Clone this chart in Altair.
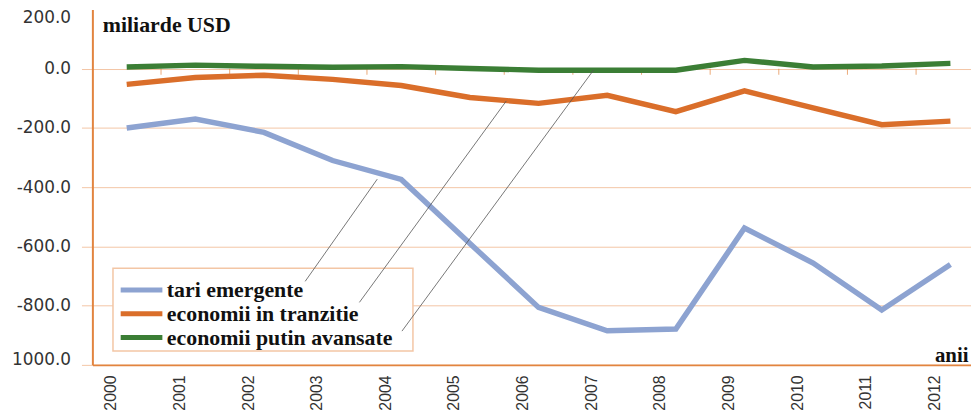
import altair as alt
import pandas as pd

# ---------------- data ----------------
years = list(range(2000, 2013))
tari_emergente = [-200, -170, -215, -310, -374, -590, -806, -885, -879, -538, -656, -815, -661]
economii_tranzitie = [-53, -30, -22, -36, -57, -97, -117, -90, -145, -75, -132, -189, -177]
economii_putin_avansate = [6, 12, 8, 5, 7, 1, -5, -5, -5, 28, 6, 9, 18]

series_names = ["tari emergente", "economii in tranzitie", "economii putin avansate"]
series_colors = ["#8DA3D1", "#DA6E2A", "#3B7E35"]
y_ticks = [200, 0, -200, -400, -600, -800, -1000]

# annotation: leader lines from legend labels to the series (data units)
leader_x = [2002.60, 2003.39, 2004.01]
leader_y = [-718, -789, -886]
leader_x2 = [2003.65, 2005.53, 2006.80]
leader_y2 = [-373, -109, -5]

# annotation: legend frame (data units)
legend_box_x = [1999.80]
legend_box_x2 = [2004.17]
legend_box_y = [-674]
legend_box_y2 = [-953]

grid_color = "#F3C6A5"
axis_color = "#E2843F"

# ---------------- tables ----------------
rows = []
for name, vals in zip(series_names, [tari_emergente, economii_tranzitie, economii_putin_avansate]):
    for yr, v in zip(years, vals):
        rows.append({"an": yr, "valoare": v, "serie": name})
df = pd.DataFrame(rows)

ticks_df = pd.DataFrame({"an": [y + 0.5 for y in years[:-1]], "valoare": [0] * (len(years) - 1)})
leaders_df = pd.DataFrame({"an": leader_x, "valoare": leader_y, "an2": leader_x2, "valoare2": leader_y2})
box_df = pd.DataFrame({"an": legend_box_x, "an2": legend_box_x2,
                       "valoare": legend_box_y, "valoare2": legend_box_y2})

x_scale = alt.Scale(domain=[1999.5, 2012.3], nice=False, zero=False)
y_scale = alt.Scale(domain=[-1000, 200], nice=False, zero=False)

x_axis = alt.Axis(
    values=years, labelExpr="'' + datum.value", labelAngle=270, labelOffset=-16,
    labelPadding=10, labelFont="Liberation Sans", labelFontSize=16, labelColor="#333333",
    labelOverlap=False, labelBound=False,
    ticks=False, grid=False, domainColor=axis_color, domainWidth=2,
    title="anii", titleX=882, titleY=-9, titleAlign="right", titleBaseline="middle",
    titleAngle=0, titleFont="Liberation Serif", titleFontWeight="bold", titleFontSize=21,
    titleColor="#111111",
)

y_axis = alt.Axis(
    values=y_ticks,
    labelExpr="datum.value == -1000 ? '1000.0' : (datum.value < 0 ? '-' : '') + format(abs(datum.value), '.1f')",
    labelFont="DejaVu Sans", labelFontSize=17, labelColor="#333333", labelPadding=11,
    labelFlush=True, labelOverlap=False,
    labelOffset={"condition": {"test": "datum.value == -1000", "value": 4}, "value": 0},
    tickSize=11, tickColor=grid_color, tickWidth=1,
    tickOpacity={"condition": {"test": "datum.value == 200", "value": 0}, "value": 1},
    domainColor=axis_color, domainWidth=2,
    grid=True, gridColor=grid_color, gridWidth=1,
    gridOpacity={"condition": {"test": "datum.value == 200", "value": 0}, "value": 1},
    title="miliarde USD", titleAngle=0, titleX=10, titleY=15, titleAlign="left",
    titleBaseline="middle", titleFont="Liberation Serif", titleFontWeight="bold",
    titleFontSize=22, titleColor="#111111",
)

X = alt.X("an:Q", scale=x_scale, axis=x_axis)
Y = alt.Y("valoare:Q", scale=y_scale, axis=y_axis)

legend = alt.Legend(
    orient="none", legendX=18, legendY=263, title=None, direction="vertical",
    symbolType="stroke", symbolSize=1764, symbolStrokeWidth=5, clipHeight=23, rowPadding=1,
    labelFont="Liberation Serif", labelFontWeight="bold", labelFontSize=22,
    labelColor="#111111", labelLimit=400, labelOffset=2, padding=8,
)

zero_ticks = alt.Chart(ticks_df).mark_tick(
    orient="vertical", size=6, thickness=1, color=axis_color, yOffset=3, opacity=0.7
).encode(x=X, y=Y)

box = alt.Chart(box_df).mark_rect(fill="white", stroke=grid_color, strokeWidth=1.5).encode(
    x=X, y=Y, x2="an2:Q", y2="valoare2:Q"
)

lines = alt.Chart(df).mark_line(strokeWidth=5.5).encode(
    x=X, y=Y,
    color=alt.Color("serie:N", scale=alt.Scale(domain=series_names, range=series_colors), legend=legend),
)

leaders = alt.Chart(leaders_df).mark_rule(color="#555555", strokeWidth=0.8).encode(
    x=X, y=Y, x2="an2:Q", y2="valoare2:Q"
)

chart = alt.layer(zero_ticks, box, lines, leaders).properties(
    width=885, height=358,
    autosize=alt.AutoSizeParams(type="none"),
    padding={"left": 85, "top": 0, "right": 0, "bottom": 46},
    background="white",
).configure_view(stroke=None)

chart.save("out.html", embed_options={"renderer": "svg", "actions": False})
